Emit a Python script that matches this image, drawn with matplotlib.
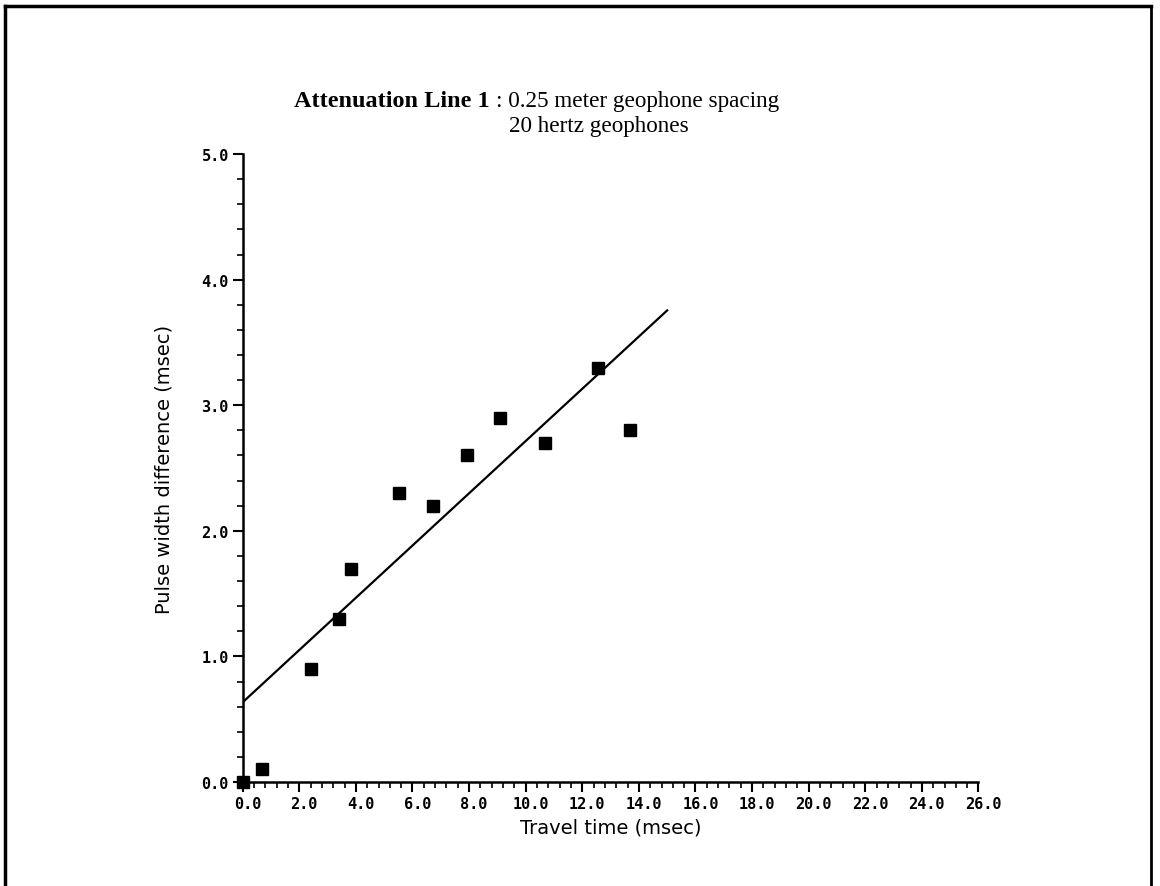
import numpy as np
import matplotlib
matplotlib.use("Agg")
import matplotlib.pyplot as plt
from matplotlib.lines import Line2D
from matplotlib.transforms import ScaledTranslation

# measured points
travel_time = [0.0, 0.67, 2.40, 3.40, 3.83, 5.53, 6.73, 7.93, 9.08, 10.67, 12.54, 13.67]
pulse_diff = [0.0, 0.1, 0.9, 1.3, 1.7, 2.3, 2.2, 2.6, 2.9, 2.7, 3.3, 2.8]

# fitted line end points
fit_x = [0.0, 15.0]
fit_y = [0.635, 3.755]

x_ticks = np.arange(0, 27, 2)
y_ticks = np.arange(0, 5.5, 1.0)

fig = plt.figure(figsize=(11.6, 8.87), dpi=100)
ax = fig.add_axes([0.2092, 0.1172, 0.6343, 0.708])

ax.plot(fit_x, fit_y, color="black", lw=1.6)
ax.plot(travel_time, pulse_diff, ls="none", marker="s", ms=8,
        color="black", clip_on=False)

ax.set_xlim(0, 26)
ax.set_ylim(0, 5)
ax.set_xticks(x_ticks)
ax.set_xticklabels([f"{v:.1f}" for v in x_ticks])
ax.set_xticks(np.arange(0, 26.01, 0.4), minor=True)
ax.set_yticks(y_ticks)
ax.set_yticklabels([f"{v:.1f}" for v in y_ticks])
ax.set_yticks(np.arange(0, 5.01, 0.2), minor=True)

for s in ["top", "right"]:
    ax.spines[s].set_visible(False)
for s in ["left", "bottom"]:
    ax.spines[s].set_linewidth(1.8)

ax.tick_params(which="major", direction="out", length=7, width=1.5,
               labelsize=11, pad=3)
ax.tick_params(which="minor", direction="out", length=4, width=1.2)
for lab in ax.get_xticklabels() + ax.get_yticklabels():
    lab.set_fontweight("bold")
    lab.set_family("DejaVu Sans Mono")
shift = ScaledTranslation(5 / 100, 0, fig.dpi_scale_trans)
for lab in ax.get_xticklabels():
    lab.set_transform(lab.get_transform() + shift)

ax.set_xlabel("Travel time (msec)", fontsize=14, labelpad=5)
ax.set_ylabel("Pulse width difference (msec)", fontsize=14, labelpad=20)

# title block
fig.text(490 / 1160, 1 - 106.7 / 887, "Attenuation Line 1", fontsize=17.5,
         fontweight="bold", family="Liberation Serif", va="baseline", ha="right")
fig.text(496 / 1160, 1 - 106.7 / 887, ": 0.25 meter geophone spacing",
         fontsize=16.7, family="Liberation Serif", va="baseline")
fig.text(509 / 1160, 1 - 131.7 / 887, "20 hertz geophones",
         fontsize=16.7, family="Liberation Serif", va="baseline")

# page frame
fig.add_artist(Line2D([5 / 1160, 5 / 1160], [0, 1 - 7 / 887], color="black", lw=2.5))
fig.add_artist(Line2D([5 / 1160, 1151 / 1160], [1 - 7 / 887, 1 - 7 / 887], color="black", lw=2.5))
fig.add_artist(Line2D([1151 / 1160, 1151 / 1160], [0, 1 - 7 / 887], color="black", lw=2.0))

fig.savefig("out.png", dpi=100)
